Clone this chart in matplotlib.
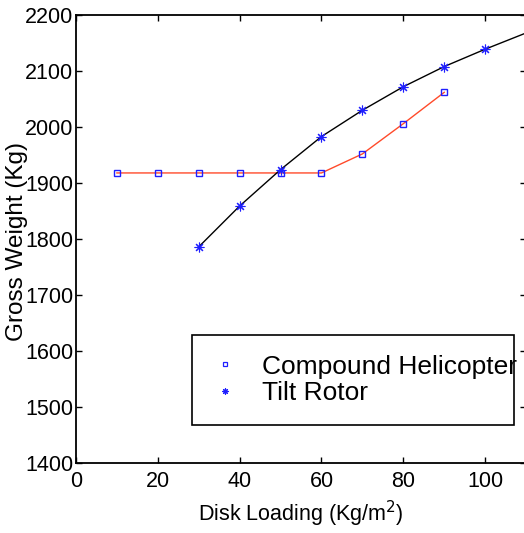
import matplotlib
matplotlib.use('Agg')
import matplotlib.pyplot as plt
from matplotlib.lines import Line2D

# data
disk_compound = [10, 20, 30, 40, 50, 60, 70, 80, 90]
gw_compound = [1918, 1918, 1918, 1918, 1918, 1918, 1952, 2006, 2062]

disk_tilt = [30, 40, 50, 60, 70, 80, 90, 100]
gw_tilt = [1786, 1859, 1924, 1983, 2030, 2072, 2108, 2139]
# the fitted curve runs on past the last marker, to the clipped edge
curve_x = disk_tilt + [110]
curve_y = gw_tilt + [2168]

xticks = [0, 20, 40, 60, 80, 100]
yticks = [1400, 1500, 1600, 1700, 1800, 1900, 2000, 2100, 2200]

red = '#ff4a2a'
blue = '#1f1fff'
asterisk = (8, 2, 0)

plt.rcParams['font.family'] = 'Liberation Sans'

fig = plt.figure(figsize=(5.24, 5.33), dpi=100)
ax = fig.add_axes([0.145, 0.1313, 0.859, 0.8405])

ax.plot(disk_compound, gw_compound, color=red, lw=1.0, zorder=2)
ax.plot(curve_x, curve_y, color='black', lw=1.0, zorder=2)
ax.plot(disk_compound, gw_compound, ls='none', marker='s', ms=5,
        mfc='none', mec=blue, mew=1.0, zorder=3)
ax.plot(disk_tilt, gw_tilt, ls='none', marker=asterisk, ms=7,
        mec=blue, mew=0.8, zorder=3)

ax.set_xlim(0, 110)
ax.set_ylim(1400, 2200)
ax.set_xticks(xticks)
ax.set_yticks(yticks)
ax.tick_params(direction='in', length=4, width=1, top=True, right=True,
               labelsize=15.5)
ax.tick_params(axis='x', pad=6)
ax.tick_params(axis='y', pad=2)
for s in ax.spines.values():
    s.set_linewidth(1.3)

ax.set_xlabel('Disk Loading (Kg/m$^2$)', fontsize=15.5, labelpad=5)
ax.set_ylabel('Gross Weight (Kg)', fontsize=17.5)
ax.yaxis.set_label_coords(-0.107, 0.4955)

handles = [
    Line2D([], [], ls='none', marker='s', ms=3.5, mfc='none', mec=blue, mew=0.9),
    Line2D([], [], ls='none', marker=asterisk, ms=4.5, mec=blue, mew=0.8),
]
leg = ax.legend(handles, ['Compound Helicopter', 'Tilt Rotor'],
                loc='upper left', bbox_to_anchor=(0.258, 0.286, 0.715, 0.0),
                mode='expand', borderaxespad=0, fancybox=False,
                edgecolor='black', framealpha=1, handlelength=1.0,
                handletextpad=0.9, labelspacing=0.1, borderpad=0.75,
                prop={'size': 19})
leg.get_frame().set_linewidth(1.2)

fig.savefig('out.png', dpi=100)
